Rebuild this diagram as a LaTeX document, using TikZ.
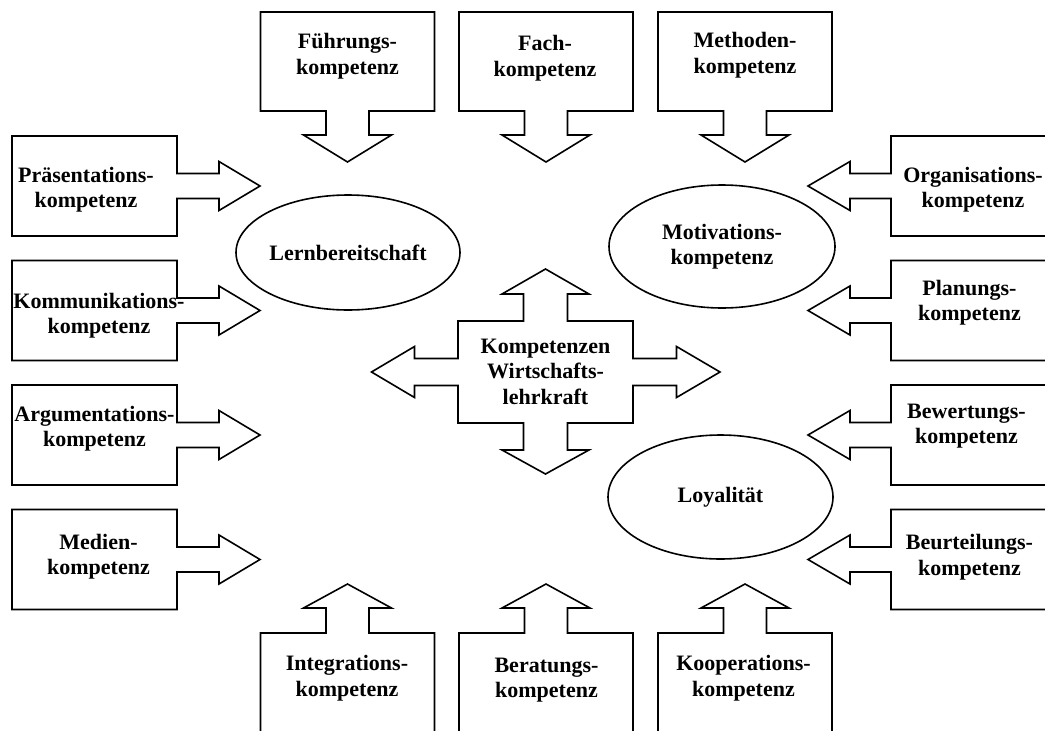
\documentclass[tikz,border=0pt]{standalone}
\usepackage{fontspec}
\setmainfont{Liberation Serif}
\usetikzlibrary{shapes.geometric}

\begin{document}
\begin{tikzpicture}[x=1pt,y=-1pt,line width=1.6pt,line join=miter]
  \tikzstyle{every node}=[font=\bfseries\fontsize{22}{25.5}\selectfont,align=center,inner sep=0pt]
  \tikzstyle{oval}=[draw,ellipse]
  \tikzstyle{callout}=[draw,fill=white]
  \useasboundingbox (0,0) rectangle (1045,731);
  \clip (0,0) rectangle (1045,731);
  % callouts, top row
  \foreach \cx in {347.5,546,745}
    \draw[callout] (\cx-87,12) -- ++(174,0) -- ++(0,99) -- ++(-65.5,0) -- ++(0,24) -- ++(22.5,0)
      -- (\cx,162) -- ++(-44,-27) -- ++(22.5,0) -- ++(0,-24) -- ++(-65.5,0) -- cycle;
  % callouts, bottom row
  \foreach \cx in {347.5,546,745}
    \draw[callout] (\cx-87,740) -- ++(0,-107) -- ++(65.5,0) -- ++(0,-25) -- ++(-22.5,0)
      -- (\cx,584) -- ++(44,24) -- ++(-22.5,0) -- ++(0,25) -- ++(65.5,0) -- ++(0,107);
  % callouts, left side
  \foreach \cy in {186,310.5,435,559.5}
    \draw[callout] (12,\cy-50) -- (177,\cy-50) -- ++(0,37.5) -- ++(42,0) -- ++(0,-12)
      -- (260,\cy) -- ++(-41,24.5) -- ++(0,-12) -- ++(-42,0) -- (177,\cy+50) -- (12,\cy+50) -- cycle;
  % callouts, right side
  \foreach \cy in {186,310.5,435,559.5}
    \draw[callout] (1060,\cy-50) -- (891,\cy-50) -- ++(0,37.5) -- ++(-41,0) -- ++(0,-12)
      -- (808,\cy) -- ++(42,24.5) -- ++(0,-12) -- ++(41,0) -- (891,\cy+50) -- (1060,\cy+50);
  % four-way arrow in the middle
  \draw[callout,shift={(545.5,372)}] (-174,0) -- (-131,-25.5) -- (-131,-13.5) -- (-87.5,-13.5)
    -- (-87.5,-51) -- (-22,-51) -- (-22,-78) -- (-43.5,-78) -- (0,-103) -- (43.5,-78) -- (22,-78)
    -- (22,-51) -- (87.5,-51) -- (87.5,-13.5) -- (131,-13.5) -- (131,-25.5) -- (174.5,0)
    -- (131,25.5) -- (131,13.5) -- (87.5,13.5) -- (87.5,51) -- (22,51) -- (22,78) -- (43.5,78)
    -- (0,102) -- (-43.5,78) -- (-22,78) -- (-22,51) -- (-87.5,51) -- (-87.5,13.5)
    -- (-131,13.5) -- (-131,25.5) -- cycle;
  \node (kern) at (545.5,371.5) {Kompetenzen\\Wirtschafts-\\lehrkraft};

  \node[oval,minimum width=224pt,minimum height=115pt] (lern) at (348,252.5) {Lernbereitschaft};
  \node[oval,minimum width=226pt,minimum height=123pt] (motivation) at (722,246.5) {Motivations-\\kompetenz};
  \node[oval,minimum width=225pt,minimum height=124pt] (loyal) at (720.5,497) {Loyalität};

  \node (fuehrung) at (347.5,56) {Führungs-\\kompetenz};
  \node (fach) at (545,58) {Fach-\\kompetenz};
  \node (methoden) at (745,55) {Methoden-\\kompetenz};

  \node (praesentation) at (86,189.5) {Präsentations-\\kompetenz};
  \node (kommunikation) at (99,315.5) {Kommunikations-\\kompetenz};
  \node (argumentation) at (94.5,428.5) {Argumentations-\\kompetenz};
  \node (medien) at (98.5,556.5) {Medien-\\kompetenz};

  \node (organisation) at (973,189.5) {Organisations-\\kompetenz};
  \node (planung) at (969.5,302.5) {Planungs-\\kompetenz};
  \node (bewertung) at (966.5,426) {Bewertungs-\\kompetenz};
  \node (beurteilung) at (969.5,557) {Beurteilungs-\\kompetenz};

  \node (integration) at (347,678) {Integrations-\\kompetenz};
  \node (beratung) at (546.5,680) {Beratungs-\\kompetenz};
  \node (kooperation) at (743.5,678) {Kooperations-\\kompetenz};
\end{tikzpicture}
\end{document}
